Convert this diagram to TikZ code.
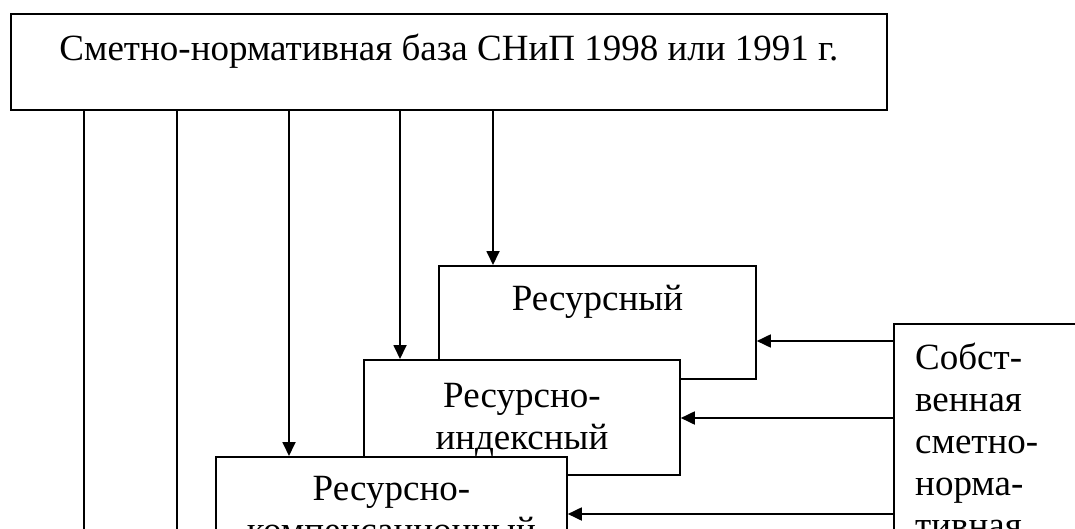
\documentclass[tikz,border=0pt]{standalone}
\usepackage{fontspec}
\setmainfont{Liberation Serif}
\usetikzlibrary{positioning, arrows.meta}
\tikzset{
    block/.style={rectangle, draw=black, line width=1.8pt, inner sep=0pt, anchor=north west},
    txt/.style={inner sep=0pt, align=center, font=\fontsize{37}{42}\selectfont},
    line/.style={line width=1.8pt, black},
    arrow/.style={-{Triangle[length=14pt, width=13pt]}, line width=1.8pt, black}
}

\begin{document}
\begin{tikzpicture}[x=1pt, y=-1pt]
    \useasboundingbox (0,0) rectangle (1075,529);
    \clip (0,0) rectangle (1075,529);

    % Блоки
    \node (base) [block, minimum width=876pt, minimum height=96pt] at (10,13) {};
    \node (res) [block, minimum width=317pt, minimum height=113pt] at (438,265) {};
    \node (resind) [block, fill=white, minimum width=316pt, minimum height=115pt] at (363,359) {};
    \node (reskomp) [block, fill=white, minimum width=351pt, minimum height=150pt] at (215,456) {};
    \node (own) [block, minimum width=300pt, minimum height=300pt] at (893,323) {};

    % Надписи
    \node (baseTxt) [txt, below=17.5pt of base.north] {\strut Сметно-нормативная база СНиП 1998 или 1991 г.};
    \node (resTxt) [txt, below=15.5pt of res.north] {\strut Ресурсный};
    \node (resindTxt) [txt, below=18.5pt of resind.north] {\strut Ресурсно-\\\strut индексный};
    \node (reskompTxt) [txt, below=14.5pt of reskomp.north] {\strut Ресурсно-\\\strut компенсационный};
    \node (ownTxt) [txt, align=left, below right=16.5pt and 22pt of own.north west]
        {\strut Собст-\\\strut венная\\\strut сметно-\\\strut норма-\\\strut тивная};

    % Стрелки сверху
    \coordinate (inRes) at ([xshift=55pt]res.north west);
    \coordinate (inResind) at ([xshift=37pt]resind.north west);
    \coordinate (inReskomp) at ([xshift=74pt]reskomp.north west);
    \draw [arrow] (base.south -| inRes) -- (inRes);
    \draw [arrow] (base.south -| inResind) -- (inResind);
    \draw [arrow] (base.south -| inReskomp) -- (inReskomp);

    % Линии вниз (за край)
    \coordinate (down1) at (84,560);
    \coordinate (down2) at (177,560);
    \draw [line] (base.south -| down1) -- (down1);
    \draw [line] (base.south -| down2) -- (down2);

    % Стрелки справа
    \coordinate (out1) at ([yshift=-18pt]own.north west);
    \coordinate (out2) at ([yshift=-95pt]own.north west);
    \coordinate (out3) at ([yshift=-191pt]own.north west);
    \draw [arrow] (out1) -- (out1 -| res.east);
    \draw [arrow] (out2) -- (out2 -| resind.east);
    \draw [arrow] (out3) -- (out3 -| reskomp.east);
\end{tikzpicture}
\end{document}
